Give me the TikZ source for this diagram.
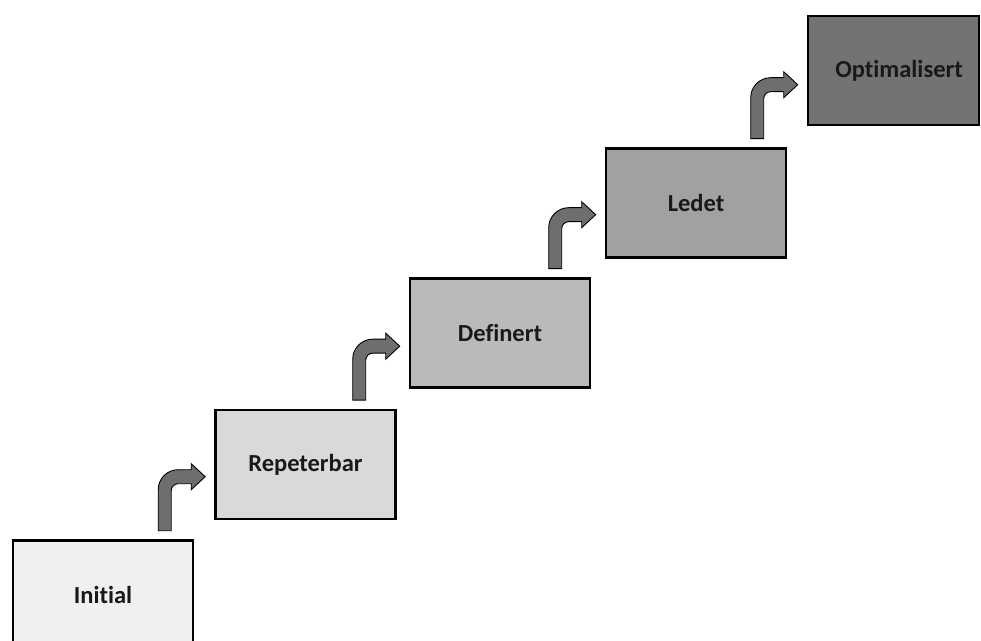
\documentclass[tikz,border=0pt]{standalone}
\usepackage{fontspec}
\setmainfont{Carlito}[Ligatures={NoCommon}]
\begin{document}
\begin{tikzpicture}[x=1pt,y=1pt,
  stage/.style={draw=black, line width=2.6pt, minimum width=180pt, minimum height=109pt,
    inner sep=0pt, font=\fontsize{24.5}{28}\selectfont\bfseries, text=black!90},
  bentarrow/.style={draw=black, line width=0.9pt, fill=black!57, line join=miter}
]
\useasboundingbox (0,0) rectangle (981,640);
\node[stage, fill=black!6]  (s1) at (103,45)    {Initial};
\node[stage, fill=black!15] (s2) at (305.5,175.5) {Repeterbar};
\node[stage, fill=black!27] (s3) at (500,307)   {Definert};
\node[stage, fill=black!37] (s4) at (696,437)   {Ledet};
\node[stage, fill=black!55, minimum width=171pt] (s5) at (893.5,569.5) {\hspace*{11pt}Optimalisert};
\foreach \p/\n in {s1/s2, s2/s3, s3/s4, s4/s5}{
  \path (\n.west |- \p.north) ++(-56,8.5) coordinate (b\n);
  \draw[bentarrow, shift={(b\n)}]
    (0,0) -- (0,41) arc[start angle=180, end angle=90, radius=20]
    -- (33,61) -- (33,67) -- (47,54) -- (33,41) -- (33,47) -- (20,47)
    arc[start angle=90, end angle=180, radius=7] -- (13,0) -- cycle;
}
\end{tikzpicture}
\end{document}
